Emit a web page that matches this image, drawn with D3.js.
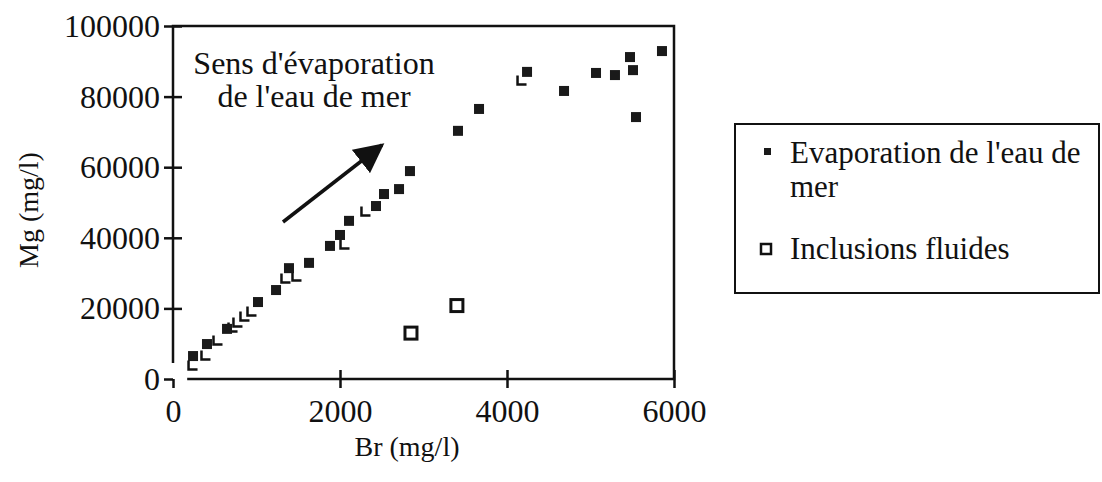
<!DOCTYPE html>
<html>
<head>
<meta charset="utf-8">
<script src="https://cdnjs.cloudflare.com/ajax/libs/d3/7.8.5/d3.min.js"></script>
<style>
  body { margin: 0; background: #fff; }
  svg text { font-family: "Liberation Serif", "Times New Roman", serif; fill: #111; }
</style>
</head>
<body>
<script>
// Evaporation de l'eau de mer: Br (mg/l) / Mg (mg/l)
var evapBr = [240, 407, 647, 1018, 1234, 1389, 1629, 1880, 2000, 2108, 2431, 2527, 2707, 2838,
              3413, 3665, 4240, 4683, 5066, 5293, 5473, 5509, 5545, 5856];
var evapMg = [6500, 9900, 14200, 21800, 25200, 31400, 32900, 37700, 40800, 44800, 49000, 52400, 53800, 58900,
              70300, 76500, 87000, 81600, 86700, 86100, 91200, 87500, 74200, 92900];

// faint / partly printed points of the same series
var faintBr = [240, 395, 539, 719, 778, 862, 946, 1353, 1485, 2060, 2311, 4180];
var faintMg = [3970, 6800, 11050, 14700, 16150, 17850, 19260, 28600, 29200, 38250, 47600, 84700];

// Inclusions fluides
var inclBr = [2850, 3400];
var inclMg = [13000, 20800];

var xTicks = [0, 2000, 4000, 6000];
var yTicks = [0, 20000, 40000, 60000, 80000, 100000];

var W = 1102, H = 482;
var x = d3.scaleLinear().domain([0, 6000]).range([173, 674]);
var y = d3.scaleLinear().domain([0, 100000]).range([379, 26]);

var svg = d3.select("body").append("svg")
  .attr("width", W).attr("height", H);

var ink = "#111";

// y axis
var yAxis = svg.append("g")
  .attr("transform", "translate(" + x(0) + ",0)")
  .call(d3.axisLeft(y).tickValues(yTicks).tickSize(9).tickPadding(4).tickFormat(d3.format("d")));
yAxis.select(".domain").remove();
yAxis.selectAll(".tick line")
  .attr("x2", -9)
  .attr("x1", function (d) { return d === 0 ? 0 : 9; })
  .attr("stroke", ink).attr("stroke-width", 2.5);
yAxis.selectAll(".tick text").attr("font-size", 32).attr("dy", "0.33em");

// x axis
var xAxis = svg.append("g")
  .attr("transform", "translate(0," + y(0) + ")")
  .call(d3.axisBottom(x).tickValues(xTicks).tickSize(9).tickPadding(12).tickFormat(d3.format("d")));
xAxis.select(".domain").remove();
xAxis.selectAll(".tick line")
  .attr("y1", function (d) { return d === 0 ? 0 : -9; })
  .attr("stroke", ink).attr("stroke-width", 2.5);
xAxis.selectAll(".tick text").attr("font-size", 32).attr("dy", "0.68em");

// axis lines (broken near the origin) and frame
svg.append("path")
  .attr("d", "M" + x(0) + "," + y(4500) + "V" + y(100000) + "H" + x(6000) + "V" + y(0) + "H" + x(170))
  .attr("fill", "none").attr("stroke", ink).attr("stroke-width", 2.5);

// axis titles
svg.append("text")
  .attr("x", 407).attr("y", 456)
  .attr("text-anchor", "middle").attr("font-size", 28)
  .text("Br (mg/l)");
svg.append("text")
  .attr("transform", "translate(38," + 210 + ") rotate(-90)")
  .attr("text-anchor", "middle").attr("font-size", 28)
  .text("Mg (mg/l)");

// faint points: only the lower-left edges survive
var fs = 9;
svg.append("g").selectAll("path")
  .data(faintBr.map(function (d, i) { return [d, faintMg[i]]; }))
  .enter().append("path")
  .attr("d", function (d) {
    var cx = x(d[0]), cy = y(d[1]);
    return "M" + (cx - fs / 2) + "," + (cy - fs / 2) + "V" + (cy + fs / 2) + "H" + (cx + fs / 2);
  })
  .attr("fill", "none").attr("stroke", ink).attr("stroke-width", 2.5);

// seawater evaporation points
var sz = 10;
svg.append("g").selectAll("rect")
  .data(evapBr.map(function (d, i) { return [d, evapMg[i]]; }))
  .enter().append("rect")
  .attr("x", function (d) { return x(d[0]) - sz / 2; })
  .attr("y", function (d) { return y(d[1]) - sz / 2; })
  .attr("width", sz).attr("height", sz)
  .attr("fill", "#1a1a1a");

// fluid inclusions
var oz = 12;
svg.append("g").selectAll("rect")
  .data(inclBr.map(function (d, i) { return [d, inclMg[i]]; }))
  .enter().append("rect")
  .attr("x", function (d) { return x(d[0]) - oz / 2; })
  .attr("y", function (d) { return y(d[1]) - oz / 2; })
  .attr("width", oz).attr("height", oz)
  .attr("fill", "#fff").attr("stroke", ink).attr("stroke-width", 3);

// annotation
var note = svg.append("text")
  .attr("text-anchor", "middle").attr("font-size", 32);
note.append("tspan").attr("x", 314).attr("y", 74).text("Sens d'évaporation");
note.append("tspan").attr("x", 314).attr("y", 107).text("de l'eau de mer");

svg.append("defs").append("marker")
  .attr("id", "head").attr("viewBox", "0 0 10 10")
  .attr("refX", 9).attr("refY", 5)
  .attr("markerWidth", 8.5).attr("markerHeight", 8.5)
  .attr("markerUnits", "strokeWidth")
  .attr("orient", "auto")
  .append("path").attr("d", "M0,0L10,5L0,10Z").attr("fill", ink);

svg.append("line")
  .attr("x1", 283).attr("y1", 222).attr("x2", 382).attr("y2", 145)
  .attr("stroke", ink).attr("stroke-width", 3.5)
  .attr("marker-end", "url(#head)");

// legend
var lg = svg.append("g");
lg.append("rect")
  .attr("x", 735).attr("y", 124).attr("width", 364).attr("height", 169)
  .attr("fill", "none").attr("stroke", ink).attr("stroke-width", 2);
lg.append("rect")
  .attr("x", 764).attr("y", 148).attr("width", 7).attr("height", 7)
  .attr("fill", "#1a1a1a");
var lt = lg.append("text").attr("font-size", 31);
lt.append("tspan").attr("x", 790).attr("y", 163).text("Evaporation de l'eau de");
lt.append("tspan").attr("x", 790).attr("y", 197).text("mer");
lg.append("rect")
  .attr("x", 761).attr("y", 244).attr("width", 10).attr("height", 10)
  .attr("fill", "#fff").attr("stroke", ink).attr("stroke-width", 2.5);
lg.append("text").attr("font-size", 31)
  .attr("x", 790).attr("y", 259).text("Inclusions fluides");
</script>
</body>
</html>
